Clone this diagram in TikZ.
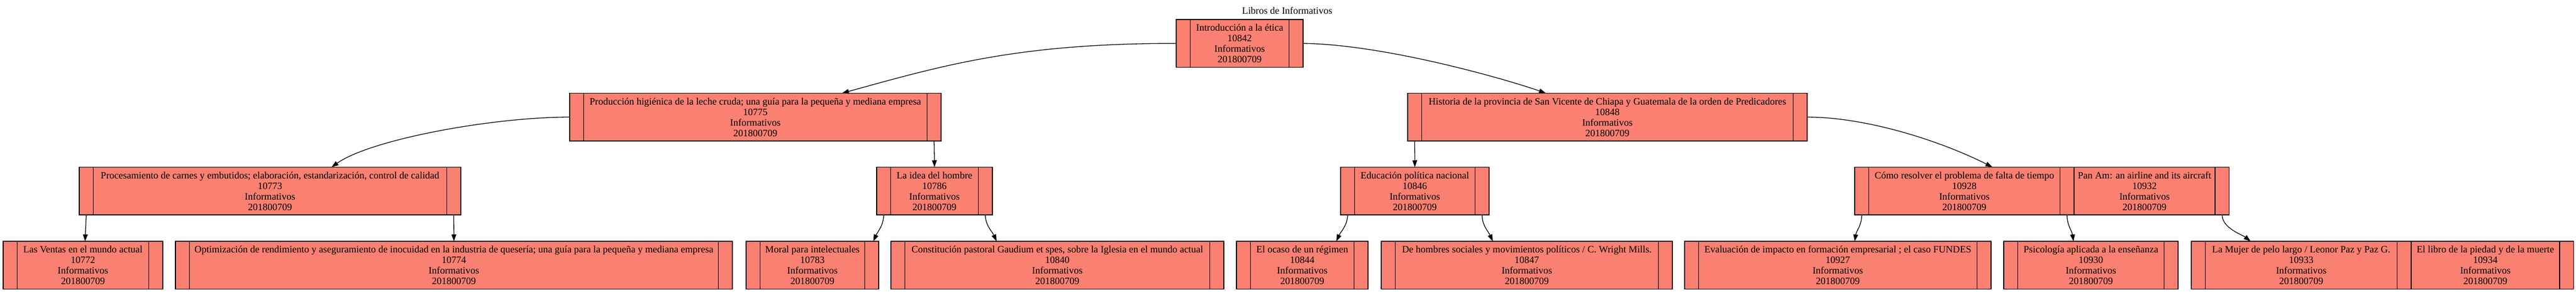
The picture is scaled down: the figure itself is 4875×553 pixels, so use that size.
\documentclass[tikz,border=0pt]{standalone}
\usepackage{fontspec}
\setmainfont{Liberation Serif}
\usetikzlibrary{arrows.meta}
\definecolor{salmon}{HTML}{FA8072}
\begin{document}
\begin{tikzpicture}[x=1pt,y=-1pt,
  fld/.style={draw=black, fill=salmon, line width=1.3pt, minimum height=90.5pt,
    inner sep=0pt, outer sep=0pt, align=center, anchor=north west,
    font=\fontsize{18.5}{20}\selectfont},
  ptr/.style={fld, minimum width=26.5pt},
  edge/.style={line width=1.3pt, -{Triangle[length=13pt,width=9pt]}},
  ttl/.style={font=\fontsize{18.5}{20}\selectfont, inner sep=0pt}
]
\useasboundingbox (0,0) rectangle (4875,553);

\node[ttl] (title) at (2436,20) {Libros de Informativos};

% root
\node[ptr] (rootA) at (2226,37) {};
\node[fld, minimum width=187pt] (rootK) at (rootA.north east) {Introducción a la ética\\10842\\Informativos\\201800709};
\node[ptr] (rootC) at (rootK.north east) {};

% level 1
\node[ptr] (LA) at (1078,176.5) {};
\node[fld, minimum width=650pt] (Lk) at (LA.north east) {Producción higiénica de la leche cruda; una guía para la pequeña y mediana empresa\\10775\\Informativos\\201800709};
\node[ptr] (LC) at (Lk.north east) {};

\node[ptr] (RA) at (2664,176.5) {};
\node[fld, minimum width=703pt] (Rk) at (RA.north east) {Historia de la provincia de San Vicente de Chiapa y Guatemala de la orden de Predicadores\\10848\\Informativos\\201800709};
\node[ptr] (RC) at (Rk.north east) {};

% level 2
\node[ptr] (ProcA) at (150,316.5) {};
\node[fld, minimum width=669pt] (Prock) at (ProcA.north east) {Procesamiento de carnes y embutidos; elaboración, estandarización, control de calidad\\10773\\Informativos\\201800709};
\node[ptr] (ProcC) at (Prock.north east) {};

\node[ptr] (LaIdeaA) at (1659,316.5) {};
\node[fld, minimum width=166pt] (LaIdeak) at (LaIdeaA.north east) {La idea del hombre\\10786\\Informativos\\201800709};
\node[ptr] (LaIdeaC) at (LaIdeak.north east) {};

\node[ptr] (EducA) at (2537,316.5) {};
\node[fld, minimum width=228pt] (Educk) at (EducA.north east) {Educación política nacional\\10846\\Informativos\\201800709};
\node[ptr] (EducC) at (Educk.north east) {};

\node[ptr] (TKA) at (3510,316.5) {};
\node[fld, minimum width=362pt] (TKa) at (TKA.north east) {Cómo resolver el problema de falta de tiempo\\10928\\Informativos\\201800709};
\node[ptr] (TKB) at (TKa.north east) {};
\node[fld, minimum width=267pt] (TKb) at (TKB.north east) {Pan Am: an airline and its aircraft\\10932\\Informativos\\201800709};
\node[ptr] (TKC) at (TKb.north east) {};

% leaves
\node[ptr] (LVA) at (6,457) {};
\node[fld, minimum width=249pt] (LVk) at (LVA.north east) {Las Ventas en el mundo actual\\10772\\Informativos\\201800709};
\node[ptr] (LVC) at (LVk.north east) {};

\node[ptr] (OptA) at (332,457) {};
\node[fld, minimum width=1001pt] (Optk) at (OptA.north east) {Optimización de rendimiento y aseguramiento de inocuidad en la industria de quesería; una guía para la pequeña y mediana empresa\\10774\\Informativos\\201800709};
\node[ptr] (OptC) at (Optk.north east) {};

\node[ptr] (MorA) at (1412,457) {};
\node[fld, minimum width=198pt] (Mork) at (MorA.north east) {Moral para intelectuales\\10783\\Informativos\\201800709};
\node[ptr] (MorC) at (Mork.north east) {};

\node[ptr] (ConA) at (1686,457) {};
\node[fld, minimum width=577pt] (Conk) at (ConA.north east) {Constitución pastoral Gaudium et spes, sobre la Iglesia en el mundo actual\\10840\\Informativos\\201800709};
\node[ptr] (ConC) at (Conk.north east) {};

\node[ptr] (OcaA) at (2340,457) {};
\node[fld, minimum width=196pt] (Ocak) at (OcaA.north east) {El ocaso de un régimen\\10844\\Informativos\\201800709};
\node[ptr] (OcaC) at (Ocak.north east) {};

\node[ptr] (HomA) at (2614,457) {};
\node[fld, minimum width=498pt] (Homk) at (HomA.north east) {De hombres sociales y movimientos políticos / C. Wright Mills.\\10847\\Informativos\\201800709};
\node[ptr] (HomC) at (Homk.north east) {};

\node[ptr] (EvaA) at (3188,457) {};
\node[fld, minimum width=527pt] (Evak) at (EvaA.north east) {Evaluación de impacto en formación empresarial ; el caso FUNDES\\10927\\Informativos\\201800709};
\node[ptr] (EvaC) at (Evak.north east) {};

\node[ptr] (PsiA) at (3792,457) {};
\node[fld, minimum width=277pt] (Psik) at (PsiA.north east) {Psicología aplicada a la enseñanza\\10930\\Informativos\\201800709};
\node[ptr] (PsiC) at (Psik.north east) {};

\node[ptr] (MujA) at (4147,457) {};
\node[fld, minimum width=363pt] (Muja) at (MujA.north east) {La Mujer de pelo largo / Leonor Paz y Paz G.\\10933\\Informativos\\201800709};
\node[ptr] (MujB) at (Muja.north east) {};
\node[fld, minimum width=281pt] (Mujb) at (MujB.north east) {El libro de la piedad y de la muerte\\10934\\Informativos\\201800709};
\node[ptr] (MujC) at (Mujb.north east) {};

% edges
\draw[edge] (rootA.west) .. controls (1926,82) and (1784,124) .. ([xshift=164pt]Lk.north);
\draw[edge] (rootC.east) .. controls (2620,84) and (2850,150) .. ([xshift=-116.5pt]Rk.north);
\draw[edge] (LA.west) .. controls (927,222) and (700,265) .. ([xshift=116.5pt]Prock.north);
\draw[edge] (LC.south) -- (LaIdeak.north);
\draw[edge] (RA.south) -- (Educk.north);
\draw[edge] (RC.east) .. controls (3539,222) and (3681,271) .. ([xshift=53pt]TKa.north);

\draw[edge] (ProcA.south) -- ([xshift=4pt]LVk.north);
\draw[edge] (ProcC.south) -- (Optk.north);
\draw[edge] (LaIdeaA.south) .. controls +(0,20) and +(8,-18) .. ([xshift=3pt]MorC.north);
\draw[edge] (LaIdeaC.south) .. controls +(0,20) and +(-8,-18) .. ([xshift=-115pt]Conk.north);
\draw[edge] (EducA.south) .. controls +(0,20) and +(8,-18) .. ([xshift=64.5pt]Ocak.north);
\draw[edge] (EducC.south) .. controls +(0,20) and +(-8,-18) .. ([xshift=-64.5pt]Homk.north);
\draw[edge] (TKA.south) .. controls +(0,20) and +(3,-20) .. ([xshift=32pt]Evak.north);
\draw[edge] (TKB.south) .. controls +(0,20) and +(-3,-20) .. ([xshift=-33pt]Psik.north);
\draw[edge] (TKC.south) .. controls +(0,25) and +(-15,-12) .. ([xshift=-96pt]Muja.north);
\end{tikzpicture}
\end{document}
